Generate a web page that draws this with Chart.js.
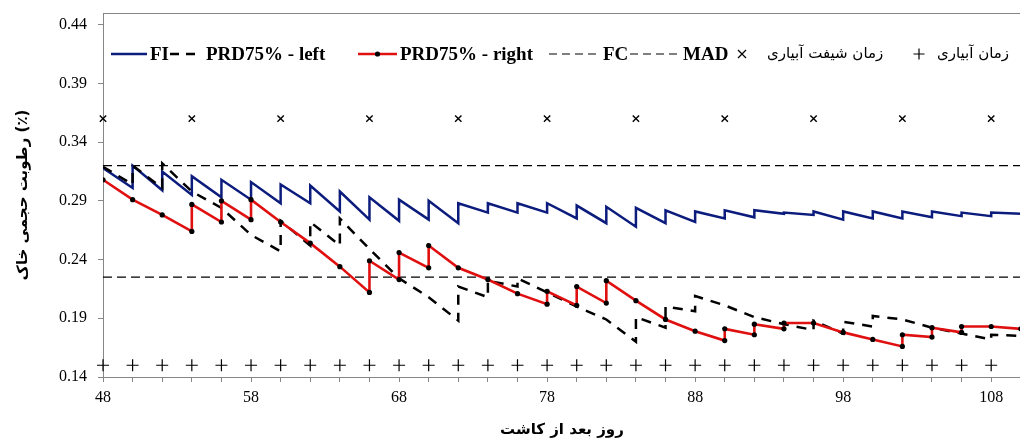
<!DOCTYPE html>
<html>
<head>
<meta charset="utf-8">
<title>رطوبت حجمی خاک</title>
<script src="https://cdn.jsdelivr.net/npm/chart.js@4.4.1/dist/chart.umd.min.js"></script>
<style>
  html, body { margin: 0; padding: 0; background: #fff; overflow: hidden; }
  canvas { display: block; }
</style>
</head>
<body>
<canvas id="rotubatChart" width="1028" height="438"></canvas>
<script>
// روزهای آبیاری (هر دو روز یک بار) و روز پایان
const days = [48, 50, 52, 54, 56, 58, 60, 62, 64, 66, 68, 70, 72, 74, 76, 78,
              80, 82, 84, 86, 88, 90, 92, 94, 96, 98, 100, 102, 104, 106, 108, 110];

// FI - قبل و بعد از آبیاری (null یعنی بدون پرش)
const fiBefore = [0.318, 0.301, 0.299, 0.295, 0.293, 0.291, 0.288, 0.288, 0.281, 0.274, 0.273, 0.274, 0.271, 0.280, 0.280, 0.280,
                  0.275, 0.271, 0.268, 0.271, 0.272, 0.275, 0.276, 0.279, 0.278, 0.274, 0.275, 0.275, 0.276, 0.277, 0.277, 0.279];
const fiAfter = [null, 0.320, 0.315, 0.311, 0.308, 0.306, 0.304, 0.303, 0.298, 0.293, 0.291, 0.290, 0.288, 0.288, 0.288, 0.288,
                 0.286, 0.285, 0.284, 0.282, 0.281, 0.282, 0.282, 0.280, 0.281, 0.281, 0.281, 0.281, 0.281, 0.280, 0.280, null];

// PRD75% - left
const leftBefore = [0.319, 0.304, 0.301, 0.298, 0.284, 0.261, 0.247, 0.252, 0.252, 0.249, 0.224, 0.208, 0.188, 0.208, 0.217, 0.212,
                    0.200, 0.189, 0.170, 0.182, 0.196, 0.201, 0.191, 0.185, 0.180, 0.177, 0.183, 0.189, 0.182, 0.177, 0.172, 0.175];
const leftAfter = [null, 0.320, 0.322, null, null, null, 0.273, 0.272, 0.275, null, null, null, 0.217, 0.222, 0.224, null,
                   null, null, 0.191, 0.200, 0.209, null, null, null, 0.188, 0.187, 0.192, null, null, null, 0.176, null];

// PRD75% - right
const rightBefore = [0.308, 0.291, 0.278, 0.264, 0.272, 0.274, 0.272, 0.254, 0.234, 0.212, 0.223, 0.233, 0.233, 0.223, 0.211, 0.202,
                     0.201, 0.203, 0.205, 0.189, 0.179, 0.171, 0.176, 0.181, 0.186, 0.178, 0.172, 0.166, 0.174, 0.178, 0.183, 0.181];
const rightAfter = [null, null, null, 0.287, 0.290, 0.291, null, null, null, 0.239, 0.246, 0.252, null, null, null, 0.213,
                    0.217, 0.222, null, null, null, 0.181, 0.185, 0.186, null, null, null, 0.176, 0.182, 0.183, null, null];

const fcLevel = 0.32;
const madLevel = 0.225;

const shiftDays = [48, 54, 60, 66, 72, 78, 84, 90, 96, 102, 108];
const shiftLevel = 0.36;
const irrigationDays = [48, 50, 52, 54, 56, 58, 60, 62, 64, 66, 68, 70, 72, 74, 76, 78,
                        80, 82, 84, 86, 88, 90, 92, 94, 96, 98, 100, 102, 104, 106, 108];
const irrigationLevel = 0.15;

const yTicks = [0.14, 0.19, 0.24, 0.29, 0.34, 0.39, 0.44];

const NAVY = '#0c1c7c';
const RED = '#e01010';
const AXIS = '#868686';
const LATIN = '"Liberation Serif", "Times New Roman", serif';
const PERSIAN = '"DejaVu Sans", sans-serif';

// ساخت نقاط دندانه‌ای: در روز آبیاری دو نقطه (قبل و بعد)
function sawtooth(before, after) {
    const pts = [];
    days.forEach((d, i) => {
        pts.push({ x: d, y: before[i] });
        if (after[i] !== null) pts.push({ x: d, y: after[i] });
    });
    return pts;
}

function flat(level) {
    return [{ x: days[0], y: level }, { x: days[days.length - 1], y: level }];
}

// بدون فاصله اضافه برای برچسب‌ها، تا ناحیه نمودار دقیق بماند
function noScalePadding(scale) {
    scale.paddingTop = 0;
    scale.paddingBottom = 0;
    scale.paddingLeft = 0;
    scale.paddingRight = 0;
}

// قاب ناحیه نمودار
const framePlugin = {
    id: 'frame',
    beforeDatasetsDraw(chart) {
        const { ctx, chartArea: a } = chart;
        ctx.save();
        ctx.strokeStyle = AXIS;
        ctx.lineWidth = 1;
        ctx.strokeRect(a.left + 0.5, a.top + 0.5, a.right - a.left, a.bottom - a.top);
        ctx.restore();
    }
};

// راهنمای بالای نمودار
const legendItems = [
    { text: 'FI', kind: 'line', color: NAVY, width: 2.5, dash: [], x0: 111, x1: 147, tx: 150 },
    { text: 'PRD75% - left', kind: 'line', color: '#000', width: 2.5, dash: [9, 7], x0: 170, x1: 197, tx: 206 },
    { text: 'PRD75% - right', kind: 'dotline', color: RED, width: 2.5, dash: [], x0: 358, x1: 397, tx: 400 },
    { text: 'FC', kind: 'line', color: '#000', width: 1.2, dash: [8, 5], x0: 549, x1: 600, tx: 603 },
    { text: 'MAD', kind: 'line', color: '#000', width: 1.2, dash: [8, 5], x0: 630, x1: 680, tx: 683 },
    { text: 'زمان شیفت آبیاری', kind: 'x', x0: 742, tx: 767 },
    { text: 'زمان آبیاری', kind: 'plus', x0: 919, tx: 937 }
];

const legendPlugin = {
    id: 'topLegend',
    afterDraw(chart) {
        const ctx = chart.ctx;
        const y = 54;
        ctx.save();
        ctx.textBaseline = 'middle';
        ctx.textAlign = 'left';
        legendItems.forEach(it => {
            if (it.kind === 'line' || it.kind === 'dotline') {
                ctx.strokeStyle = it.color;
                ctx.lineWidth = it.width;
                ctx.setLineDash(it.dash);
                ctx.beginPath();
                ctx.moveTo(it.x0, y);
                ctx.lineTo(it.x1, y);
                ctx.stroke();
                ctx.setLineDash([]);
                if (it.kind === 'dotline') {
                    ctx.fillStyle = '#000';
                    ctx.beginPath();
                    ctx.arc((it.x0 + it.x1) / 2, y, 2.6, 0, Math.PI * 2);
                    ctx.fill();
                }
                ctx.fillStyle = '#000';
                ctx.font = 'bold 19px ' + LATIN;
                ctx.fillText(it.text, it.tx, y + 1);
            } else {
                ctx.strokeStyle = '#000';
                ctx.lineWidth = 1.2;
                ctx.beginPath();
                if (it.kind === 'x') {
                    const r = 4;
                    ctx.moveTo(it.x0 - r, y - r); ctx.lineTo(it.x0 + r, y + r);
                    ctx.moveTo(it.x0 + r, y - r); ctx.lineTo(it.x0 - r, y + r);
                } else {
                    const r = 5.5;
                    ctx.moveTo(it.x0 - r, y); ctx.lineTo(it.x0 + r, y);
                    ctx.moveTo(it.x0, y - r); ctx.lineTo(it.x0, y + r);
                }
                ctx.stroke();
                ctx.fillStyle = '#000';
                ctx.font = '15px ' + PERSIAN;
                ctx.fillText(it.text, it.tx, y);
            }
        });
        ctx.restore();
    }
};

const ctx = document.getElementById('rotubatChart').getContext('2d');
new Chart(ctx, {
    type: 'line',
    data: {
        datasets: [
            {
                label: 'PRD75% - right',
                data: sawtooth(rightBefore, rightAfter),
                borderColor: RED,
                borderWidth: 2.6,
                pointRadius: 2.6,
                pointBackgroundColor: '#000',
                pointBorderWidth: 0
            },
            {
                label: 'PRD75% - left',
                data: sawtooth(leftBefore, leftAfter),
                borderColor: '#000',
                borderWidth: 2.5,
                borderDash: [10, 8],
                pointRadius: 0
            },
            {
                label: 'FI',
                data: sawtooth(fiBefore, fiAfter),
                borderColor: NAVY,
                borderWidth: 2.5,
                pointRadius: 0
            },
            {
                label: 'FC',
                data: flat(fcLevel),
                borderColor: '#000',
                borderWidth: 1.2,
                borderDash: [9, 5],
                pointRadius: 0
            },
            {
                label: 'MAD',
                data: flat(madLevel),
                borderColor: '#000',
                borderWidth: 1.2,
                borderDash: [9, 5],
                pointRadius: 0
            },
            {
                label: 'زمان شیفت آبیاری',
                data: shiftDays.map(d => ({ x: d, y: shiftLevel })),
                showLine: false,
                clip: false,
                pointStyle: 'crossRot',
                pointRadius: 4.5,
                borderColor: '#000',
                borderWidth: 1.4
            },
            {
                label: 'زمان آبیاری',
                data: irrigationDays.map(d => ({ x: d, y: irrigationLevel })),
                showLine: false,
                clip: false,
                pointStyle: 'cross',
                pointRadius: 6,
                borderColor: '#000',
                borderWidth: 1.2
            }
        ]
    },
    options: {
        responsive: false,
        animation: false,
        layout: { padding: { top: 13, right: 3, left: 0, bottom: 0 } },
        elements: { line: { tension: 0 } },
        plugins: {
            legend: { display: false },
            tooltip: { enabled: false }
        },
        scales: {
            x: {
                type: 'linear',
                min: 48,
                max: 110,
                afterBuildTicks: scale => { scale.ticks = days.map(v => ({ value: v })); },
                afterFit: scale => { scale.height = 61; noScalePadding(scale); },
                ticks: {
                    autoSkip: false,
                    maxRotation: 0,
                    padding: 6,
                    color: '#000',
                    font: { family: LATIN, size: 16 },
                    callback: v => ((v - 48) % 10 === 0 ? v : '')
                },
                grid: { drawOnChartArea: false, tickLength: 5, color: AXIS },
                border: { color: AXIS },
                title: {
                    display: true,
                    text: 'روز بعد از کاشت',
                    color: '#000',
                    font: { family: PERSIAN, size: 15, weight: 'bold', lineHeight: 1 },
                    padding: { top: 0, bottom: 0 }
                }
            },
            y: {
                min: 0.14,
                max: 0.45,
                afterBuildTicks: scale => { scale.ticks = yTicks.map(v => ({ value: v })); },
                afterFit: scale => { scale.width = 103; noScalePadding(scale); },
                ticks: {
                    padding: 11,
                    color: '#000',
                    font: { family: LATIN, size: 16 },
                    callback: v => v.toFixed(2)
                },
                grid: { drawOnChartArea: false, tickLength: 5, color: AXIS },
                border: { color: AXIS },
                title: {
                    display: true,
                    text: 'رطوبت حجمی خاک (٪)',
                    color: '#000',
                    font: { family: PERSIAN, size: 15, weight: 'bold' },
                    padding: { top: 14, bottom: 0 }
                }
            }
        }
    },
    plugins: [framePlugin, legendPlugin]
});
</script>
</body>
</html>
